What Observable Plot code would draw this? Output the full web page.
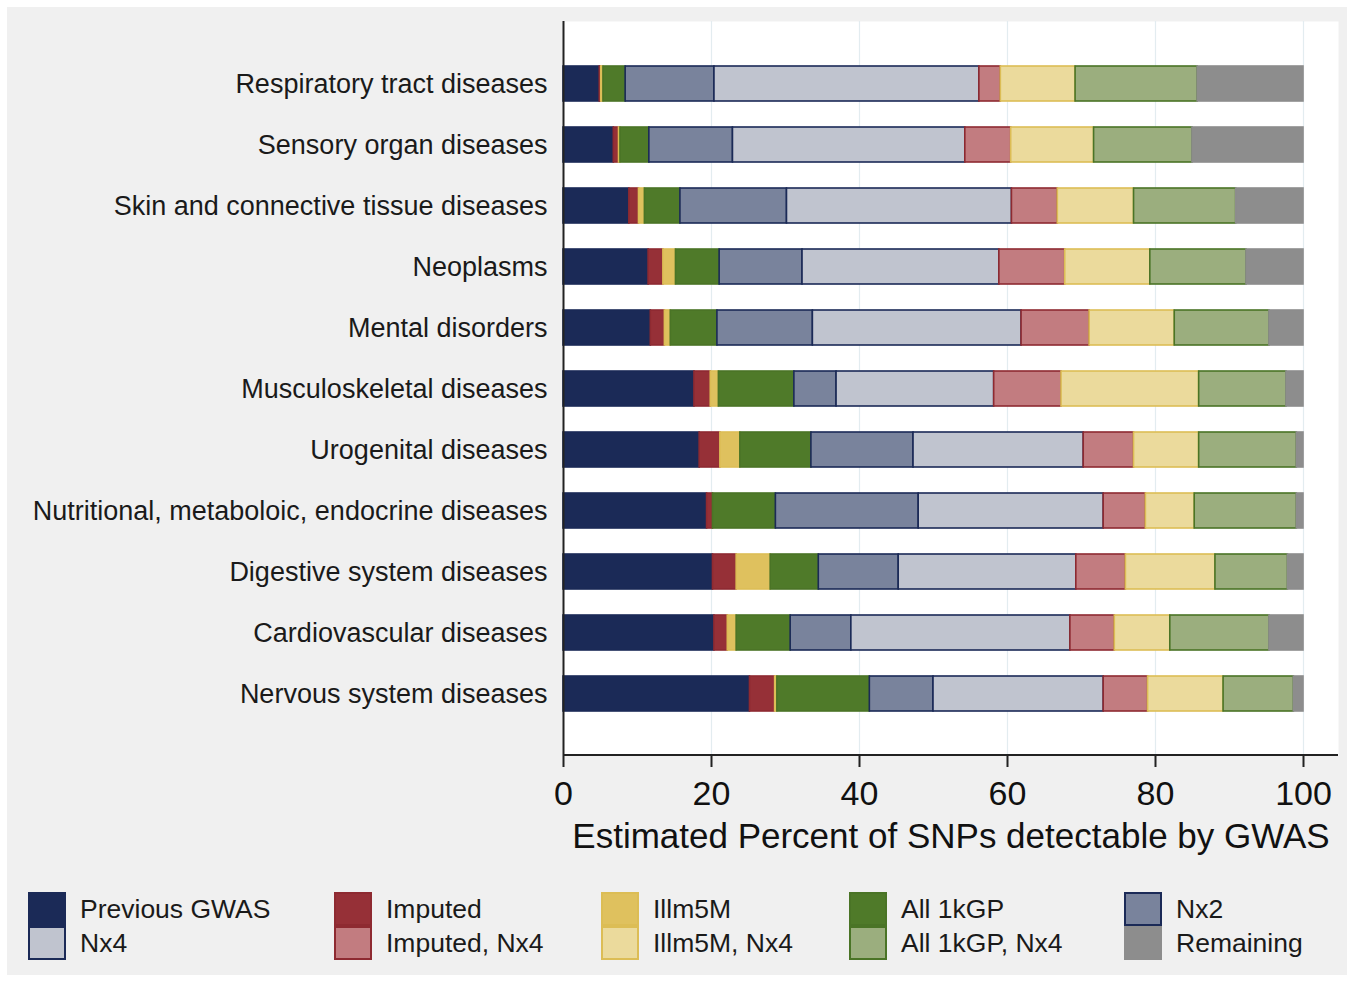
<!DOCTYPE html>
<html>
<head>
<meta charset="utf-8">
<script src="https://cdn.jsdelivr.net/npm/d3@7"></script>
<script src="https://cdn.jsdelivr.net/npm/@observablehq/plot@0.6"></script>
<style>
  body { margin: 0; background: #ffffff; font-family: Arial, "Liberation Sans", sans-serif; }
  #panel { position: absolute; left: 7px; top: 7px; width: 1340px; height: 968px; background: #f0f0f0; }
  #chart { position: absolute; left: 0; top: 0; }
  .lg-col { position: absolute; top: 885px; }
  .lg-row { position: relative; height: 34px; }
  .lg-sw { position: absolute; left: 0; top: 0; width: 38px; height: 34px; box-sizing: border-box; border: 2px solid; }
  .lg-tx { position: absolute; left: 52px; top: 0; line-height: 34px; font-size: 26.5px; color: #1a1a1a; white-space: nowrap; }
</style>
</head>
<body>
<div id="panel">
  <div id="chart"></div>
</div>
<script>
// Disease categories, top to bottom
const categories = [
  "Respiratory tract diseases",
  "Sensory organ diseases",
  "Skin and connective tissue diseases",
  "Neoplasms",
  "Mental disorders",
  "Musculoskeletal diseases",
  "Urogenital diseases",
  "Nutritional, metaboloic, endocrine diseases",
  "Digestive system diseases",
  "Cardiovascular diseases",
  "Nervous system diseases"
];

// Stack components, left to right
const seriesNames = [
  "Previous GWAS", "Imputed", "Illm5M", "All 1kGP", "Nx2",
  "Nx4", "Imputed, Nx4", "Illm5M, Nx4", "All 1kGP, Nx4", "Remaining"
];

// Percent of SNPs per component, one value per category
const previousGWAS = [4.9, 6.8, 8.9, 11.5, 11.8, 17.7, 18.4, 19.4, 20.2, 20.4, 25.2];
const imputed      = [0.2, 0.7, 1.3, 2.0, 1.9, 2.2, 2.8, 0.8, 3.2, 1.8, 3.4];
const illm5M       = [0.3, 0.2, 0.8, 1.7, 0.8, 1.1, 2.7, 0.0, 4.6, 1.2, 0.3];
const all1kGP      = [3.0, 3.9, 4.8, 5.9, 6.3, 10.2, 9.6, 8.5, 6.5, 7.3, 12.5];
const nx2          = [12.0, 11.3, 14.4, 11.2, 12.9, 5.7, 13.8, 19.3, 10.8, 8.2, 8.6];
const nx4          = [35.8, 31.4, 30.4, 26.6, 28.2, 21.3, 23.0, 25.0, 24.0, 29.6, 23.0];
const imputedNx4   = [2.9, 6.2, 6.2, 8.9, 9.2, 9.1, 6.8, 5.7, 6.7, 6.0, 6.0];
const illm5MNx4    = [10.1, 11.2, 10.3, 11.5, 11.5, 18.6, 8.8, 6.6, 12.1, 7.5, 10.2];
const all1kGPNx4   = [16.5, 13.3, 13.8, 13.0, 12.8, 11.8, 13.2, 13.8, 9.8, 13.4, 9.5];
const remaining    = [14.3, 15.0, 9.1, 7.7, 4.6, 2.3, 0.9, 0.9, 2.1, 4.6, 1.3];

const seriesValues = [previousGWAS, imputed, illm5M, all1kGP, nx2, nx4, imputedNx4, illm5MNx4, all1kGPNx4, remaining];

// Axis ticks and title
const tickValues = [0, 20, 40, 60, 80, 100];
const gridValues = [20, 40, 60, 80, 100];
const xTitle = "Estimated Percent of SNPs detectable by GWAS";

// Fill and outline colours per component
const fillColors   = ["#1b2a57", "#963037", "#dfc15e", "#4f7a29", "#79839c", "#c0c4cf", "#c27c80", "#ebda9c", "#9bae7e", "#8d8d8d"];
const strokeColors = ["#1b2a57", "#8e2a31", "#dcbd55", "#4a7426", "#1b2a57", "#1b2a57", "#8e2a31", "#dcbd55", "#4a7426", "#8d8d8d"];

// Legend layout: pairs of components per column
const legendColumns = [
  ["Previous GWAS", "Nx4"],
  ["Imputed", "Imputed, Nx4"],
  ["Illm5M", "Illm5M, Nx4"],
  ["All 1kGP", "All 1kGP, Nx4"],
  ["Nx2", "Remaining"]
];
const legendLeft = [21, 327, 594, 842, 1117];

const fillOf = Object.fromEntries(seriesNames.map((s, i) => [s, fillColors[i]]));
const strokeOf = Object.fromEntries(seriesNames.map((s, i) => [s, strokeColors[i]]));

// Long table: one row per (category, component), in stacking order
const rows = [];
categories.forEach((c, ci) => {
  seriesNames.forEach((s, si) => {
    rows.push({category: c, series: s, value: seriesValues[si][ci]});
  });
});

// Bottom axis line spanning the plot area
function bottomLine(index, scales, values, dimensions) {
  const {width, height, marginLeft, marginRight, marginBottom} = dimensions;
  const y = height - marginBottom;
  const g = d3.create("svg:line")
    .attr("x1", marginLeft).attr("x2", width - marginRight)
    .attr("y1", y).attr("y2", y)
    .attr("stroke", "#222").attr("stroke-width", 2);
  return g.node();
}

const chart = Plot.plot({
  width: 1340,
  height: 870,
  marginLeft: 556,
  marginRight: 9,
  marginTop: 14,
  marginBottom: 122,
  style: {background: "transparent", fontFamily: "Arial, 'Liberation Sans', sans-serif", color: "#1a1a1a"},
  x: {domain: [0, 104.73]},
  y: {domain: categories, paddingInner: 0.43, paddingOuter: 0.72},
  color: {type: "identity"},
  marks: [
    Plot.frame({fill: "white", stroke: null}),
    Plot.ruleX(gridValues, {stroke: "#e3ecf0", strokeWidth: 1.2}),
    Plot.barX(rows, {
      x: "value",
      y: "category",
      fill: d => fillOf[d.series],
      stroke: d => strokeOf[d.series],
      strokeWidth: 1.6
    }),
    Plot.ruleX([0], {stroke: "#222", strokeWidth: 2}),
    bottomLine,
    Plot.axisX({ticks: tickValues, tickSize: 12, tickPadding: 13, fontSize: 34, label: null, stroke: "#222", strokeWidth: 2, fill: "#111"}),
    Plot.axisY({tickSize: 0, tickPadding: 16, fontSize: 27, label: null, fill: "#1a1a1a"}),
    Plot.text([xTitle], {text: d => d, frameAnchor: "bottom", dy: 92, fontSize: 35, fill: "#111"})
  ]
});
document.getElementById("chart").appendChild(chart);

// HTML legend under the chart
const panel = document.getElementById("panel");
legendColumns.forEach((pair, ci) => {
  const col = document.createElement("div");
  col.className = "lg-col";
  col.style.left = legendLeft[ci] + "px";
  pair.forEach(name => {
    const row = document.createElement("div");
    row.className = "lg-row";
    const sw = document.createElement("div");
    sw.className = "lg-sw";
    sw.style.background = fillOf[name];
    sw.style.borderColor = strokeOf[name];
    const tx = document.createElement("div");
    tx.className = "lg-tx";
    tx.textContent = name;
    row.appendChild(sw);
    row.appendChild(tx);
    col.appendChild(row);
  });
  panel.appendChild(col);
});
</script>
</body>
</html>
